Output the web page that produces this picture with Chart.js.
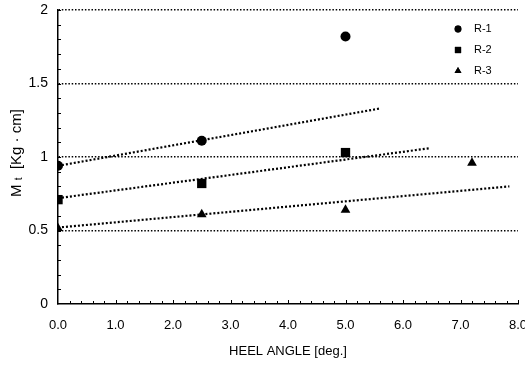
<!DOCTYPE html>
<html>
<head>
<meta charset="utf-8">
<script src="https://cdn.jsdelivr.net/npm/chart.js@4/dist/chart.umd.min.js"></script>
<style>
  html, body { margin: 0; padding: 0; background: #fff; }
  #wrap { width: 525px; height: 366px; }
</style>
</head>
<body>
<div id="wrap"><canvas id="c"></canvas></div>
<script>
const SERIES_NAMES = ["R-1", "R-2", "R-3"];
const POINT_STYLES = ["circle", "rect", "triangle"];
const POINT_SIZES = [5, 6.6, 5.6];

// measured points
const R1_X = [0.0, 2.5, 5.0];
const R1_Y = [0.94, 1.11, 1.82];
const R2_X = [0.0, 2.5, 5.0];
const R2_Y = [0.71, 0.82, 1.03];
const R3_X = [0.0, 2.5, 5.0, 7.2];
const R3_Y = [0.515, 0.61, 0.64, 0.96];

// dotted fit lines (end points)
const R1_FIT_X = [0.0, 5.6];
const R1_FIT_Y = [0.94, 1.33];
const R2_FIT_X = [0.0, 6.47];
const R2_FIT_Y = [0.72, 1.06];
const R3_FIT_X = [0.0, 7.85];
const R3_FIT_Y = [0.52, 0.80];

const X_TICKS = [0, 1, 2, 3, 4, 5, 6, 7, 8];
const Y_TICKS = [0, 0.5, 1, 1.5, 2];

const pts = (xs, ys) => xs.map((x, i) => ({ x, y: ys[i] }));
const FONT = "'Liberation Sans', Arial, sans-serif";

const punkte = [pts(R1_X, R1_Y), pts(R2_X, R2_Y), pts(R3_X, R3_Y)];
const linien = [pts(R1_FIT_X, R1_FIT_Y), pts(R2_FIT_X, R2_FIT_Y), pts(R3_FIT_X, R3_FIT_Y)];

const datasets = [];
linien.forEach((d, i) => datasets.push({
  type: "line",
  label: SERIES_NAMES[i] + " fit",
  data: d,
  borderColor: "#000",
  borderWidth: 2.2,
  borderDash: [2, 2],
  pointRadius: 0,
  fill: false,
}));
punkte.forEach((d, i) => datasets.push({
  type: "scatter",
  label: SERIES_NAMES[i],
  data: d,
  pointStyle: POINT_STYLES[i],
  pointRadius: POINT_SIZES[i],
  pointBackgroundColor: "#000",
  pointBorderColor: "#000",
  pointBorderWidth: 0,
}));

// small inward tick marks + legend + y title
const zierde = {
  id: "zierde",
  afterDraw(chart) {
    const ctx = chart.ctx;
    const xs = chart.scales.x, ys = chart.scales.y;
    const { left, bottom } = chart.chartArea;
    ctx.save();
    ctx.strokeStyle = "#000";
    ctx.lineWidth = 1;
    ctx.beginPath();
    for (let k = 1; k <= 20; k++) {
      const py = Math.round(ys.getPixelForValue(k / 10)) + 0.5;
      ctx.moveTo(left, py); ctx.lineTo(left + 3, py);
    }
    for (let k = 1; k <= 40; k++) {
      const px = Math.round(xs.getPixelForValue(k / 5)) + 0.5;
      const len = k % 5 === 0 ? 4 : 3;
      ctx.moveTo(px, bottom); ctx.lineTo(px, bottom - len);
    }
    ctx.stroke();

    // legend
    const drawPoint = Chart.helpers && Chart.helpers.drawPoint;
    ctx.fillStyle = "#000";
    ctx.font = "11px " + FONT;
    ctx.textBaseline = "middle";
    ctx.textAlign = "left";
    SERIES_NAMES.forEach((n, i) => {
      const y = 29 + i * 21;
      if (drawPoint) {
        drawPoint(ctx, { pointStyle: POINT_STYLES[i], radius: [3.4, 4.4, 4][i], rotation: 0, borderWidth: 0 }, 458, y);
        ctx.fill();
      }
      ctx.fillText(n, 474, y);
    });

    // y title: M_t [Kg · cm]
    ctx.translate(17, 153);
    ctx.rotate(-Math.PI / 2);
    const f1 = "15px " + FONT, f2 = "10px " + FONT;
    ctx.font = f1; const wM = ctx.measureText("M ").width;
    ctx.font = f2; const wt = ctx.measureText("t").width;
    ctx.font = f1; const wR = ctx.measureText("  [Kg · cm]").width;
    let x0 = -(wM + wt + wR) / 2;
    ctx.font = f1; ctx.fillText("M ", x0, 0); x0 += wM;
    ctx.font = f2; ctx.fillText("t", x0, 2); x0 += wt;
    ctx.font = f1; ctx.fillText("  [Kg · cm]", x0, 0);
    ctx.restore();
  },
};

new Chart(document.getElementById("c"), {
  type: "scatter",
  data: { datasets },
  plugins: [zierde],
  options: {
    responsive: true,
    maintainAspectRatio: false,
    animation: false,
    layout: { padding: { top: 10, right: 7, left: 0, bottom: 0 } },
    plugins: { legend: { display: false }, tooltip: { enabled: false } },
    scales: {
      x: {
        type: "linear",
        min: 0, max: 8,
        afterBuildTicks: (s) => { s.ticks = X_TICKS.map(v => ({ value: v })); },
        afterFit: (s) => { s.height = 62; s.paddingLeft = 0; s.paddingRight = 0; },
        ticks: { callback: (v) => Number(v).toFixed(1), color: "#000", font: { family: FONT, size: 13 }, padding: 14, maxRotation: 0 },
        grid: { drawOnChartArea: false, drawTicks: false },
        border: { color: "#000", width: 1.5 },
        title: { display: true, text: "HEEL ANGLE [deg.]", color: "#000", font: { family: FONT, size: 13 }, padding: { bottom: 7 } },
      },
      y: {
        min: 0, max: 2,
        afterBuildTicks: (s) => { s.ticks = Y_TICKS.map(v => ({ value: v })); },
        afterFit: (s) => { s.width = 58; s.paddingTop = 0; s.paddingBottom = 0; },
        ticks: { callback: (v) => String(v), color: "#000", font: { family: FONT, size: 14 }, padding: 10 },
        grid: {
          drawTicks: false,
          color: (c) => (c.tick && c.tick.value === 0 ? "rgba(0,0,0,0)" : "#000"),
          lineWidth: 1.4,
        },
        border: { color: "#000", width: 1.5, dash: [1.5, 1.8] },
      },
    },
  },
});
</script>
</body>
</html>
